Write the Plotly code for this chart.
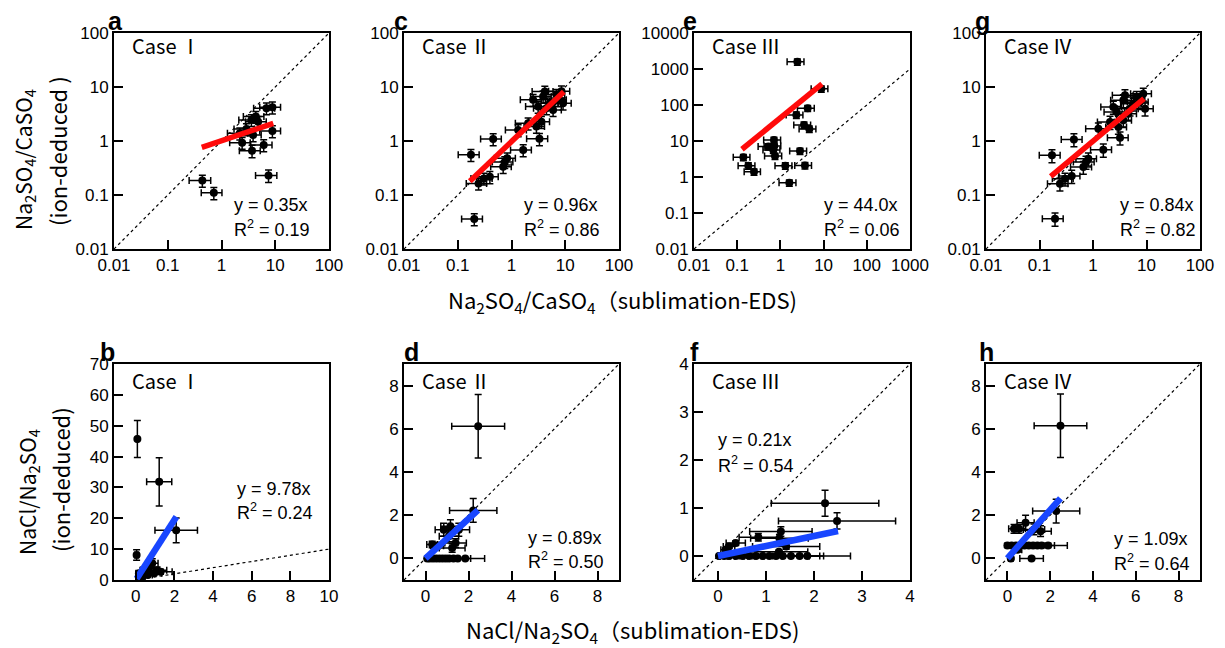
import plotly.graph_objects as go

# ---------------- data ----------------
# Panel a: Case I, Na2SO4/CaSO4
a_x = [0.44, 0.72, 7.5, 2.42, 3.7, 6.1, 8.85, 6.86, 8.85, 4.35, 3.6, 2.91, 2.19, 3.87, 4.8]
a_y = [0.186, 0.11, 0.23, 0.93, 0.66, 0.84, 1.53, 4.05, 4.2, 2.83, 2.45, 1.67, 1.39, 1.29, 2.28]
a_xerr = [0.19, 0.3, 3.2, 1.0, 1.55, 2.6, 3.7, 2.9, 3.7, 1.8, 1.5, 1.2, 0.9, 1.6, 2.0]
a_yerr = [0.047, 0.028, 0.06, 0.23, 0.17, 0.21, 0.38, 1.0, 1.05, 0.7, 0.6, 0.42, 0.35, 0.32, 0.57]
a_fit_x = [0.43, 9.2]
a_fit_y = [0.76, 2.12]

# Panel c: Case II
c_x = [0.203, 0.176, 0.456, 1.65, 3.31, 0.244, 0.306, 0.396, 0.70, 0.75, 0.83, 1.33, 2.04, 3.6, 2.91,
       2.52, 3.87, 5.15, 6.86, 8.5, 9.1, 3.13, 4.47, 5.94, 7.36, 4.17]
c_y = [0.036, 0.557, 1.09, 0.68, 1.1, 0.164, 0.203, 0.217, 0.333, 0.41, 0.48, 1.6, 2.13, 2.28, 1.85,
       5.8, 6.7, 5.0, 7.2, 8.3, 5.0, 4.35, 4.05, 3.77, 5.78, 8.25]
c_xerr = [0.085, 0.074, 0.19, 0.69, 1.4, 0.1, 0.13, 0.17, 0.29, 0.31, 0.35, 0.56, 0.86, 1.5, 1.2,
          1.06, 1.6, 2.2, 2.9, 3.6, 3.8, 1.3, 1.9, 2.5, 3.1, 1.75]
c_yerr = [0.009, 0.14, 0.27, 0.17, 0.28, 0.04, 0.05, 0.055, 0.083, 0.1, 0.12, 0.4, 0.53, 0.57, 0.46,
          1.45, 1.7, 1.25, 1.8, 2.1, 1.25, 1.1, 1.0, 0.94, 1.45, 2.1]
c_fit_x = [0.168, 9.4]
c_fit_y = [0.18, 8.2]

# Panel e: Case III
e_x = [2.47, 8.85, 4.28, 2.34, 3.52, 4.67, 0.71, 0.72, 0.685, 0.75, 2.84, 0.139, 0.181, 0.245, 1.3, 3.7, 1.61, 0.525]
e_y = [1590, 281, 81.5, 53, 28, 21.6, 10.7, 7.3, 5.6, 3.83, 5.27, 3.52, 2.06, 1.4, 2.06, 2.1, 0.69, 7.0]
e_xerr = [1.04, 3.7, 1.8, 0.98, 1.48, 1.96, 0.3, 0.3, 0.29, 0.32, 1.2, 0.058, 0.076, 0.1, 0.55, 1.55, 0.68, 0.22]
e_yerr = [320, 56, 16, 10.6, 5.6, 4.3, 2.1, 1.5, 1.1, 0.77, 1.05, 0.7, 0.41, 0.28, 0.41, 0.42, 0.14, 1.4]
e_fit_x = [0.129, 9.2]
e_fit_y = [5.9, 388]

# Panel g: Case IV
g_x = [0.195, 0.171, 0.44, 1.56, 3.2, 0.241, 0.3, 0.4, 0.66, 0.74, 0.82, 1.26, 2.08, 3.69, 2.98,
       2.4, 3.69, 4.92, 6.55, 8.7, 9.4, 2.77, 4.57, 5.68, 7.56, 3.96]
g_y = [0.0365, 0.543, 1.07, 0.69, 1.15, 0.162, 0.2, 0.225, 0.33, 0.41, 0.47, 1.69, 2.25, 2.42, 1.82,
       4.27, 5.66, 3.97, 6.53, 7.5, 3.97, 3.44, 3.2, 4.9, 5.27, 7.0]
g_xerr = [0.082, 0.072, 0.185, 0.66, 1.34, 0.1, 0.126, 0.17, 0.28, 0.31, 0.34, 0.53, 0.87, 1.55, 1.25,
          1.0, 1.55, 2.07, 2.75, 3.65, 3.95, 1.16, 1.92, 2.39, 3.18, 1.66]
g_yerr = [0.01, 0.147, 0.29, 0.19, 0.31, 0.044, 0.054, 0.061, 0.089, 0.11, 0.127, 0.46, 0.61, 0.65, 0.49,
          1.15, 1.53, 1.07, 1.76, 2.0, 1.07, 0.93, 0.86, 1.32, 1.42, 1.9]
g_fit_x = [0.162, 8.97]
g_fit_y = [0.222, 6.08]

# Panel b: Case I, NaCl/Na2SO4
b_x = [0.08, 1.21, 2.09, 0.04, 0.16, 0.42, 0.68, 0.85, 1.1, 0.6, 0.33, 0.94, 1.28, 0.5, 0.2]
b_y = [45.7, 31.8, 16.1, 8.1, 2.15, 3.2, 3.8, 5.4, 3.2, 1.6, 1.1, 2.15, 2.7, 2.5, 0.5]
b_xerr = [0.05, 0.65, 1.1, 0.1, 0.15, 0.2, 0.25, 0.3, 0.5, 0.25, 0.15, 0.4, 0.6, 0.2, 0.1]
b_yerr = [6.0, 7.8, 4.0, 1.7, 0.8, 1.0, 1.2, 1.5, 1.0, 0.6, 0.4, 0.7, 0.8, 0.8, 0.3]
b_fit_x = [0.04, 2.1]
b_fit_y = [0.4, 20.5]

# Panel d: Case II
d_x = [2.45, 2.22, 1.24, 1.16, 0.85, 1.55, 1.09, 0.31, 0.54, 1.4,
       0.08, 0.2, 0.35, 0.5, 0.65, 0.8, 0.95, 1.1, 1.3, 1.5, 1.85]
d_y = [6.12, 2.22, 0.48, 1.49, 1.33, 1.33, 1.02, 0.64, 0.59, 0.71,
       0, 0, 0, 0, 0, 0, 0, 0, 0, 0, 0]
d_xerr = [1.23, 1.1, 0.6, 0.45, 0.4, 0.5, 0.45, 0.25, 0.3, 0.5,
          0.05, 0.1, 0.15, 0.2, 0.25, 0.3, 0.35, 0.45, 0.5, 0.6, 0.9]
d_yerr = [1.47, 0.55, 0.2, 0.3, 0.3, 0.3, 0.25, 0.15, 0.15, 0.2,
          0, 0, 0, 0, 0, 0, 0, 0, 0, 0, 0]
d_fit_x = [0, 2.44]
d_fit_y = [0, 2.24]

# Panel f: Case III
f_x = [2.23, 2.48, 1.31, 0.84, 1.28, 1.42, 0.37, 0.23, 0.16, 1.27,
       0.02, 0.13, 0.23, 0.37, 0.51, 0.65, 0.79, 0.93, 1.07, 1.21, 1.35, 1.52, 1.7, 1.86]
f_y = [1.1, 0.73, 0.51, 0.39, 0.37, 0.2, 0.27, 0.2, 0.13, 0.09,
       0, 0, 0, 0, 0, 0, 0, 0, 0, 0, 0, 0, 0, 0]
f_xerr = [1.12, 1.22, 0.65, 0.4, 0.6, 0.7, 0.2, 0.12, 0.1, 0.6,
          0.02, 0.08, 0.12, 0.18, 0.25, 0.3, 0.35, 0.4, 0.45, 0.5, 0.55, 0.6, 0.5, 0.9]
f_yerr = [0.27, 0.17, 0.1, 0.08, 0.08, 0.06, 0.05, 0.04, 0.03, 0.03,
          0, 0, 0, 0, 0, 0, 0, 0, 0, 0, 0, 0, 0, 0]
f_fit_x = [0, 2.5]
f_fit_y = [0, 0.52]

# Panel h: Case IV
h_x = [2.48, 2.28, 0.85, 0.31, 0.54, 1.24, 1.55, 0.0, 0.2, 0.4, 0.6, 0.8, 1.0, 1.2, 1.4, 1.6, 1.9, 0.16, 1.13, 0.47]
h_y = [6.14, 2.19, 1.65, 1.37, 1.37, 1.34, 1.26, 0.6, 0.6, 0.6, 0.6, 0.6, 0.6, 0.6, 0.6, 0.6, 0.6, 0, 0, 0.4]
h_xerr = [1.23, 1.1, 0.4, 0.25, 0.3, 0.5, 0.5, 0.05, 0.1, 0.15, 0.25, 0.3, 0.35, 0.45, 0.5, 0.6, 0.9, 0.1, 0.55, 0.2]
h_yerr = [1.47, 0.55, 0.35, 0.2, 0.2, 0.25, 0.25, 0.1, 0.1, 0.1, 0.1, 0.1, 0.1, 0.1, 0.1, 0.1, 0.1, 0.05, 0.05, 0.1]
h_fit_x = [0, 2.48]
h_fit_y = [0, 2.78]

case_labels = ["Case\u2009Ⅰ", "Case\u2009Ⅱ", "Case\u2009Ⅲ", "Case\u2009Ⅳ"]
eq_top = ["y = 0.35x", "y = 0.96x", "y = 44.0x", "y = 0.84x"]
r2_top = ["0.19", "0.86", "0.06", "0.82"]
eq_bot = ["y = 9.78x", "y = 0.89x", "y = 0.21x", "y = 1.09x"]
r2_bot = ["0.24", "0.50", "0.54", "0.64"]

log_ticks = [0.01, 0.1, 1, 10, 100, 1000, 10000]
log_tick_text = ["0.01", "0.1", "1", "10", "100", "1000", "10000"]

# ---------------- layout geometry (screen pixels) ----------------
W, H = 1225, 648
OFF = 8  # page body margin offset in the browser


def px_x(px):
    return (px - OFF) / W


def px_y(py):
    return 1 - (py - OFF) / H


col_left = [114, 404, 694, 986]
col_w = [215, 215, 216, 214]
row_top = [33, 364]
box_h = 216

panels = [
    dict(letter="a", row=0, col=0, log=True, x=a_x, y=a_y, xe=a_xerr, ye=a_yerr, fx=a_fit_x, fy=a_fit_y,
         xr=[-2, 2], yr=[-2, 2], xt=log_ticks[:5], yt=log_ticks[:5], line=[0.01, 100],
         case=case_labels[0], eq=eq_top[0], r2=r2_top[0], eqx=0.549, eqy=(0.204, 0.097), lx=115),
    dict(letter="c", row=0, col=1, log=True, x=c_x, y=c_y, xe=c_xerr, ye=c_yerr, fx=c_fit_x, fy=c_fit_y,
         xr=[-2, 2], yr=[-2, 2], xt=log_ticks[:5], yt=log_ticks[:5], line=[0.01, 100],
         case=case_labels[1], eq=eq_top[1], r2=r2_top[1], eqx=0.549, eqy=(0.204, 0.097), lx=401),
    dict(letter="e", row=0, col=2, log=True, x=e_x, y=e_y, xe=e_xerr, ye=e_yerr, fx=e_fit_x, fy=e_fit_y,
         xr=[-2, 3], yr=[-2, 4], xt=log_ticks[:6], yt=log_ticks[:7], line=[0.01, 1000],
         case=case_labels[2], eq=eq_top[2], r2=r2_top[2], eqx=0.593, eqy=(0.204, 0.097), lx=690),
    dict(letter="g", row=0, col=3, log=True, x=g_x, y=g_y, xe=g_xerr, ye=g_yerr, fx=g_fit_x, fy=g_fit_y,
         xr=[-2, 2], yr=[-2, 2], xt=log_ticks[:5], yt=log_ticks[:5], line=[0.01, 100],
         case=case_labels[3], eq=eq_top[3], r2=r2_top[3], eqx=0.617, eqy=(0.204, 0.097), lx=982),
    dict(letter="b", row=1, col=0, log=False, x=b_x, y=b_y, xe=b_xerr, ye=b_yerr, fx=b_fit_x, fy=b_fit_y,
         xr=[-1.13, 10], yr=[0, 70], xt=[0, 2, 4, 6, 8, 10], yt=[0, 10, 20, 30, 40, 50, 60, 70], line=[0, 10],
         case=case_labels[0], eq=eq_bot[0], r2=r2_bot[0], eqx=0.563, eqy=(0.421, 0.315), lx=108),
    dict(letter="d", row=1, col=1, log=False, x=d_x, y=d_y, xe=d_xerr, ye=d_yerr, fx=d_fit_x, fy=d_fit_y,
         xr=[-1, 9], yr=[-1, 9], xt=[0, 2, 4, 6, 8], yt=[0, 2, 4, 6, 8], line=[-1, 9],
         case=case_labels[1], eq=eq_bot[1], r2=r2_bot[1], eqx=0.567, eqy=(0.194, 0.088), lx=411),
    dict(letter="f", row=1, col=2, log=False, x=f_x, y=f_y, xe=f_xerr, ye=f_yerr, fx=f_fit_x, fy=f_fit_y,
         xr=[-0.5, 4], yr=[-0.5, 4], xt=[0, 1, 2, 3, 4], yt=[0, 1, 2, 3, 4], line=[-0.5, 4],
         case=case_labels[2], eq=eq_bot[2], r2=r2_bot[2], eqx=0.102, eqy=(0.648, 0.537), lx=694),
    dict(letter="h", row=1, col=3, log=False, x=h_x, y=h_y, xe=h_xerr, ye=h_yerr, fx=h_fit_x, fy=h_fit_y,
         xr=[-1, 9], yr=[-1, 9], xt=[0, 2, 4, 6, 8], yt=[0, 2, 4, 6, 8], line=[-1, 9],
         case=case_labels[3], eq=eq_bot[3], r2=r2_bot[3], eqx=0.589, eqy=(0.19, 0.083), lx=986),
]

TICK_FONT = dict(family="Liberation Sans, Arial", size=17, color="black")
TEXT_FONT = dict(family="Liberation Sans, Arial", size=18, color="black")
CJK = "Noto Sans CJK JP"

fig = go.Figure()
layout = dict(width=W, height=H, margin=dict(l=0, r=0, t=0, b=0, autoexpand=False),
              paper_bgcolor="white", plot_bgcolor="white", showlegend=False)
annotations = []

for i, p in enumerate(panels):
    n = i + 1
    xa = "x" if n == 1 else f"x{n}"
    ya = "y" if n == 1 else f"y{n}"
    L = col_left[p["col"]]
    w = col_w[p["col"]]
    T = row_top[p["row"]]
    xdom = [px_x(L), px_x(L + w)]
    ydom = [px_y(T + box_h), px_y(T)]
    axis_common = dict(showline=True, linewidth=2, linecolor="black", mirror=True,
                       ticks="inside", ticklen=9, tickwidth=1.5, tickcolor="black",
                       showgrid=False, zeroline=False, tickfont=TICK_FONT, automargin=False)
    if p["log"]:
        xaxis = dict(type="log", range=p["xr"], tickvals=p["xt"],
                     ticktext=[log_tick_text[log_ticks.index(v)] for v in p["xt"]], **axis_common)
        yaxis = dict(type="log", range=p["yr"], tickvals=p["yt"],
                     ticktext=[log_tick_text[log_ticks.index(v)] for v in p["yt"]], **axis_common)
    else:
        xaxis = dict(range=p["xr"], tickvals=p["xt"], **axis_common)
        yaxis = dict(range=p["yr"], tickvals=p["yt"], **axis_common)
    xaxis.update(domain=xdom, anchor=ya)
    yaxis.update(domain=ydom, anchor=xa)
    layout["xaxis" if n == 1 else f"xaxis{n}"] = xaxis
    layout["yaxis" if n == 1 else f"yaxis{n}"] = yaxis

    # 1:1 dotted line
    fig.add_trace(go.Scatter(x=p["line"], y=p["line"], mode="lines", xaxis=xa, yaxis=ya,
                             line=dict(color="black", width=1.2, dash="dot"), hoverinfo="skip"))
    # data points with error bars
    fig.add_trace(go.Scatter(x=p["x"], y=p["y"], mode="markers", xaxis=xa, yaxis=ya,
                             marker=dict(color="black", size=8),
                             error_x=dict(type="data", array=p["xe"], color="black", thickness=1.5, width=3.5),
                             error_y=dict(type="data", array=p["ye"], color="black", thickness=1.5, width=3.5)))
    # fitted line
    fit_color = "#ff0a0a" if p["row"] == 0 else "#1846ff"
    fig.add_trace(go.Scatter(x=p["fx"], y=p["fy"], mode="lines", xaxis=xa, yaxis=ya,
                             line=dict(color=fit_color, width=5.5 if p["row"] == 0 else 6.5)))

    xd = f"{xa} domain"
    yd = f"{ya} domain"
    annotations.append(dict(text=p["case"], xref=xd, yref=yd, x=0.075, y=0.94 if p["row"] == 0 else 0.925,
                            xanchor="left", yanchor="middle", showarrow=False,
                            font=dict(family=CJK, size=20, color="black")))
    annotations.append(dict(text=p["eq"], xref=xd, yref=yd, x=p["eqx"], y=p["eqy"][0],
                            xanchor="left", yanchor="middle", showarrow=False, font=TEXT_FONT))
    annotations.append(dict(text="R<sup>2</sup> = " + p["r2"], xref=xd, yref=yd, x=p["eqx"], y=p["eqy"][1],
                            xanchor="left", yanchor="middle", showarrow=False, font=TEXT_FONT))
    annotations.append(dict(text="<b>" + p["letter"] + "</b>", xref="paper", yref="paper",
                            x=px_x(p["lx"]), y=px_y(T + 4), xanchor="center", yanchor="bottom",
                            showarrow=False, font=dict(family="Liberation Sans, Arial", size=25, color="black")))

# global axis titles
TITLE_FONT = dict(family=CJK, size=21, color="black")
TITLE2_FONT = dict(family=CJK, size=22, color="black")
XTITLE_FONT = dict(family=CJK, size=22, color="black")
annotations += [
    dict(text="Na<sub>2</sub>SO<sub>4</sub>/CaSO<sub>4</sub>", xref="paper", yref="paper",
         x=px_x(24), y=px_y(160), textangle=-90, showarrow=False, font=TITLE_FONT,
         xanchor="center", yanchor="middle"),
    dict(text="(ion-deduced )", xref="paper", yref="paper",
         x=px_x(57), y=px_y(151), textangle=-90, showarrow=False, font=TITLE2_FONT,
         xanchor="center", yanchor="middle"),
    dict(text="Na<sub>2</sub>SO<sub>4</sub>/CaSO<sub>4</sub>（sublimation-EDS)", xref="paper", yref="paper",
         x=px_x(622), y=px_y(300), showarrow=False, font=XTITLE_FONT, xanchor="center", yanchor="middle"),
    dict(text="NaCl/Na<sub>2</sub>SO<sub>4</sub>", xref="paper", yref="paper",
         x=px_x(28), y=px_y(492), textangle=-90, showarrow=False, font=TITLE_FONT,
         xanchor="center", yanchor="middle"),
    dict(text="(ion-deduced)", xref="paper", yref="paper",
         x=px_x(60), y=px_y(480), textangle=-90, showarrow=False, font=TITLE2_FONT,
         xanchor="center", yanchor="middle"),
    dict(text="NaCl/Na<sub>2</sub>SO<sub>4</sub>（sublimation-EDS)", xref="paper", yref="paper",
         x=px_x(632), y=px_y(630), showarrow=False, font=XTITLE_FONT, xanchor="center", yanchor="middle"),
]
layout["annotations"] = annotations
fig.update_layout(**layout)
fig.write_html("out.html")
